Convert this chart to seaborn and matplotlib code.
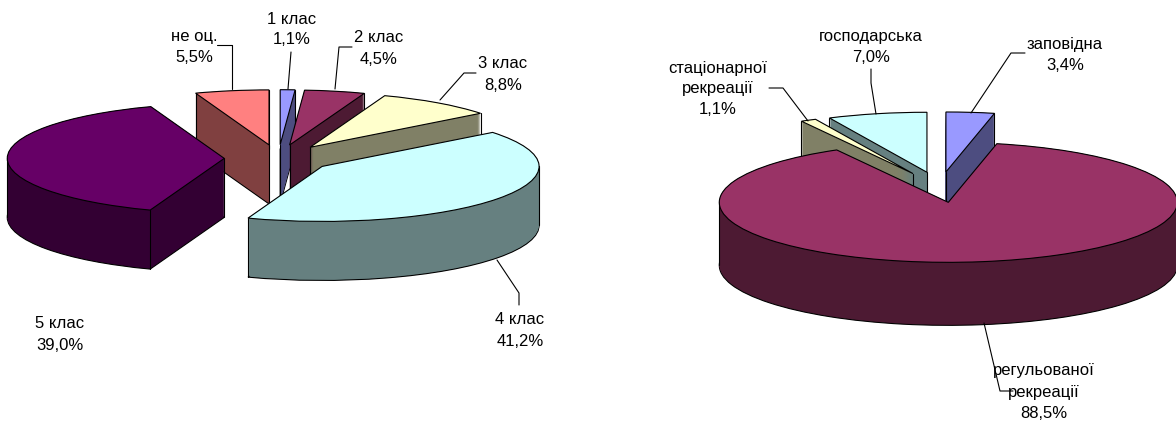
import numpy as np
import seaborn as sns
import matplotlib.pyplot as plt

# left pie
class_names = ['1 клас', '2 клас', '3 клас', '4 клас', '5 клас', 'не оц.']
class_values = [1.1, 4.5, 8.8, 41.2, 39.0, 5.5]
class_colors = ['#9999FF', '#993366', '#FFFFCC', '#CCFFFF', '#660066', '#FF8080']
class_order = [2, 3, 4, 6, 5, 1]

# right pie
zone_names = ['заповідна', 'регульованої\nрекреації', 'стаціонарної\nрекреації', 'господарська']
zone_values = [3.4, 88.5, 1.1, 7.0]
zone_colors = ['#9999FF', '#993366', '#FFFFCC', '#CCFFFF']
zone_order = [3, 4, 2, 1]

W, H = 1176, 421

sns.set_theme(style='white')
plt.rcParams['font.family'] = ['Liberation Sans', 'DejaVu Sans']

fig = plt.figure(figsize=(W / 100, H / 100), dpi=100, facecolor='white')


def draw_pie(values, colors, order, cx, cy, rx, ry, explode, depth_px):
    ax = fig.add_axes([0, 0, 1, 1])
    ax.patch.set_alpha(0)
    palette = sns.color_palette(colors)
    dark = [tuple(c * 0.5 for c in col) for col in palette]
    depth = depth_px / ry
    ex = [explode] * len(values)
    kw = dict(explode=ex, startangle=90, counterclock=False, normalize=True)

    # side walls, stacked from the bottom up
    for n, d in enumerate(np.linspace(depth, 0, depth_px + 1)):
        wedges, _ = ax.pie(values, colors=dark, center=(0, -d), **kw)
        for w, z in zip(wedges, order):
            w.set_zorder(z)
            if n == 0:
                w.set_edgecolor('black')
                w.set_linewidth(0.8)
            else:
                w.set_edgecolor('none')

    # top faces and the vertical edges
    wedges, _ = ax.pie(values, colors=palette, center=(0, 0), **kw)
    for w, z in zip(wedges, order):
        w.set_zorder(100)
        w.set_edgecolor('black')
        w.set_linewidth(0.8)
        x0, y0 = w.center
        t1, t2 = w.theta1 % 360, w.theta2 % 360
        if t2 <= t1:
            t2 += 360
        angles = [t1, t2] + [a for a in (0, 180, 360, 540) if t1 < a < t2]
        xs = [x0] + [x0 + w.r * np.cos(np.radians(a)) for a in angles]
        ys = [y0] + [y0 + w.r * np.sin(np.radians(a)) for a in angles]
        for x, y in zip(xs, ys):
            # an edge shows only if the spot just under it is off the top face
            dx, dy = x - x0, y - 0.02 - y0
            a = np.degrees(np.arctan2(dy, dx)) % 360
            inside = np.hypot(dx, dy) <= w.r and (t1 <= a <= t2 or t1 <= a + 360 <= t2)
            if not inside:
                ax.plot([x, x], [y, y - depth], color='black', lw=0.8, zorder=z + 0.5)

    ax.set_aspect('auto')
    ax.set_xlim(-cx / rx, (W - cx) / rx)
    ax.set_ylim((cy - H) / ry, cy / ry)
    ax.axis('off')


draw_pie(class_values, class_colors, class_order, 278.3, 158.4, 217, 55, 0.249, 59)
draw_pie(zone_values, zone_colors, zone_order, 939.7, 187.2, 229, 60, 0.255, 63)

# labels and leader lines are placed in pixels
over = fig.add_axes([0, 0, 1, 1], zorder=200)
over.patch.set_alpha(0)
over.set_xlim(0, W)
over.set_ylim(H, 0)
over.axis('off')


def label(name, value, x, y):
    lines = name.split('\n') + [f'{value:.1f}%'.replace('.', ',')]
    for i, line in enumerate(lines):
        over.text(x, y + i * 21, line, ha='center', va='center', fontsize=12, color='black')


label(class_names[0], class_values[0], 292, 19)
label(class_names[1], class_values[1], 379, 38)
label(class_names[2], class_values[2], 503, 64)
label(class_names[3], class_values[3], 520, 320)
label(class_names[4], class_values[4], 60, 324)
label(class_names[5], class_values[5], 194, 36)
label(zone_names[0], zone_values[0], 1065, 44)
label(zone_names[1], zone_values[1], 1044, 371)
label(zone_names[2], zone_values[2], 718, 68)
label(zone_names[3], zone_values[3], 871, 36)

leaders = [
    ([217, 232, 232], [45, 45, 89]),
    ([291, 288], [52, 89]),
    ([352, 339, 335], [47, 47, 89]),
    ([476, 464, 440], [73, 73, 100]),
    ([497, 519, 519], [260, 293, 305]),
    ([1025, 1011, 971], [53, 53, 113]),
    ([871, 871, 876], [69, 83, 114]),
    ([769, 783, 808], [88, 88, 121]),
    ([984, 1000, 1013], [323, 391, 391]),
]
for xs, ys in leaders:
    over.plot(xs, ys, color='black', lw=0.8)

fig.savefig('out.png', dpi=100)
